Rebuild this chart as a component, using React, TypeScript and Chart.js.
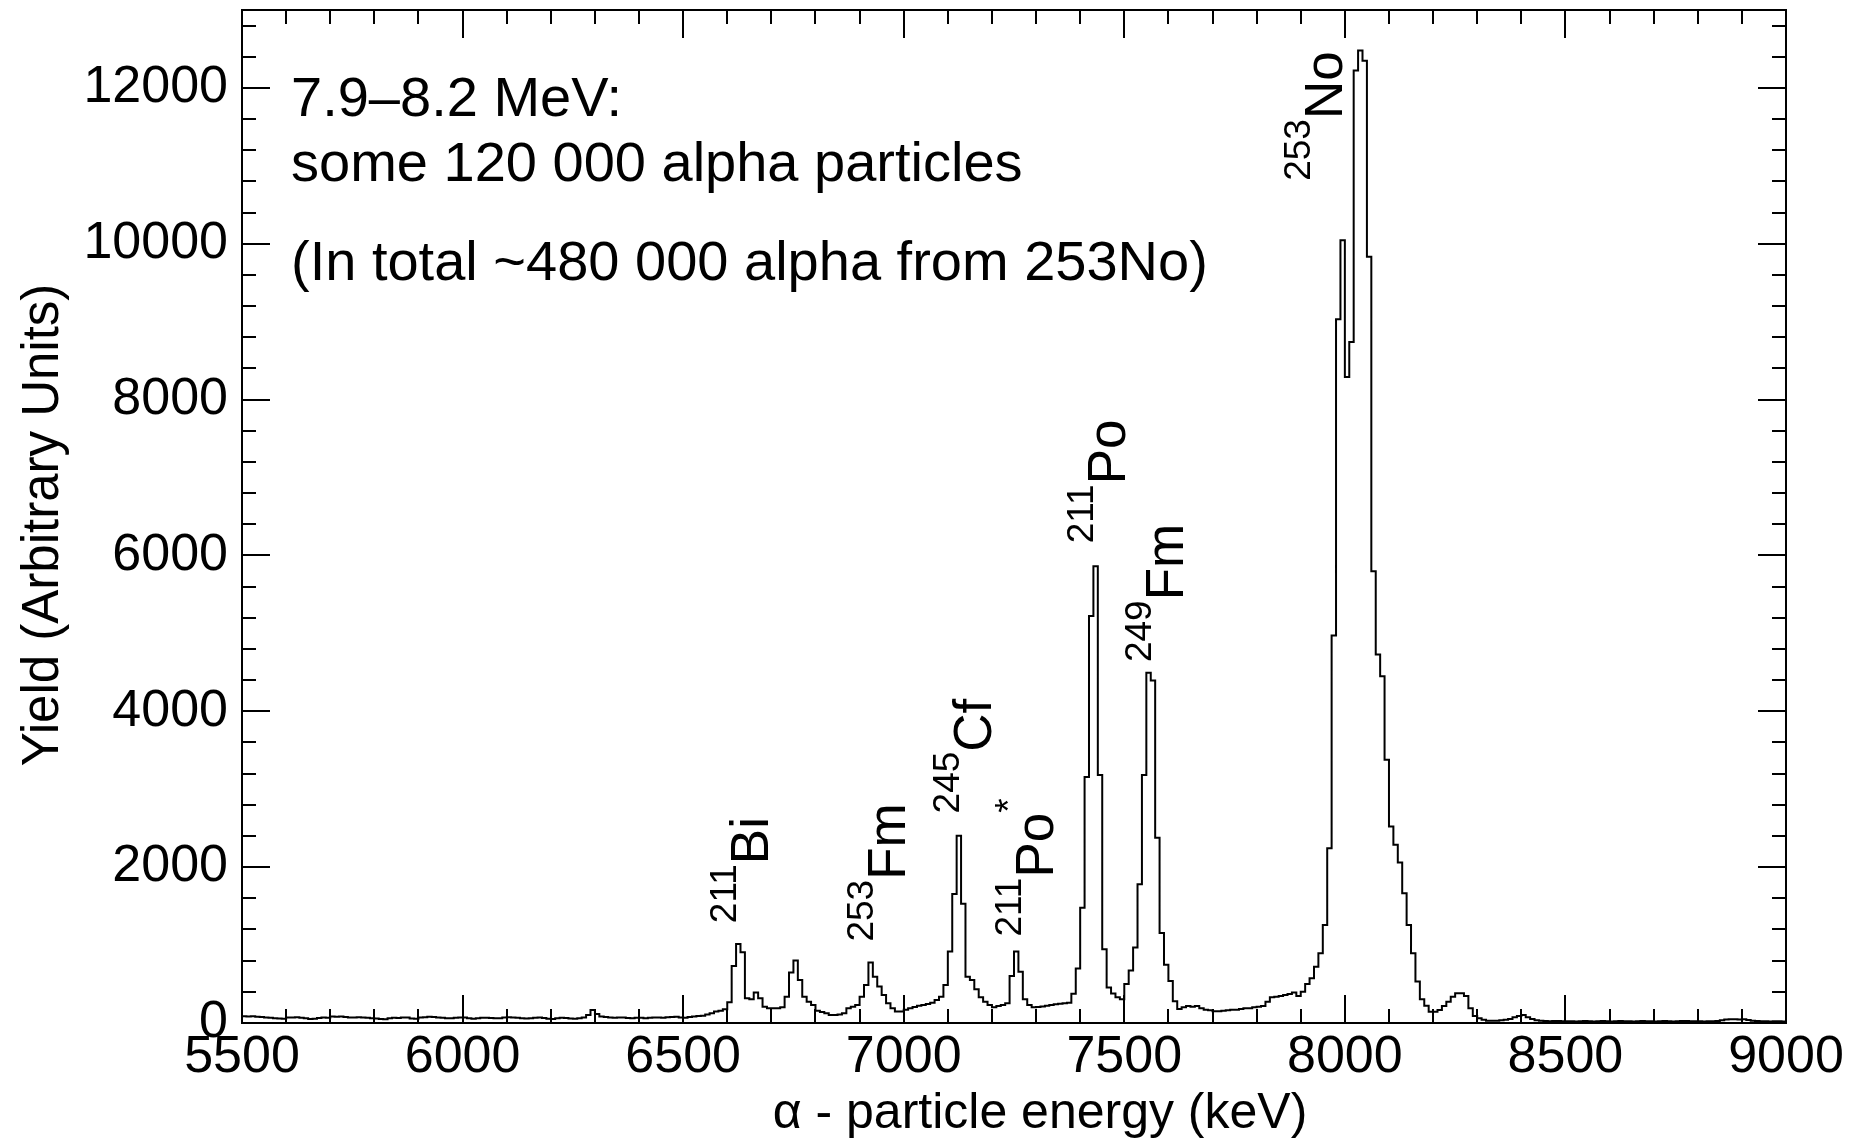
import React, { useEffect, useRef } from 'react';
import { Chart, registerables } from 'chart.js';

Chart.register(...registerables);

// Histogram binning (keV)
const BIN_START_KEV = 5500;
const BIN_WIDTH_KEV = 10;

// Yield per 10 keV bin, one row = 100 keV (row start energy in comment)
const yieldCounts: number[] = [
  /* 5500 */ 88, 84, 86, 80, 78, 72, 66, 62, 58, 55,
  /* 5600 */ 72, 70, 74, 68, 60, 52, 56, 64, 70, 66,
  /* 5700 */ 84, 80, 82, 76, 70, 72, 74, 70, 66, 62,
  /* 5800 */ 58, 50, 48, 62, 66, 64, 72, 70, 58, 54,
  /* 5900 */ 70, 74, 80, 78, 72, 66, 62, 60, 66, 72,
  /* 6000 */ 70, 62, 56, 60, 66, 68, 64, 60, 62, 70,
  /* 6100 */ 74, 70, 66, 62, 58, 62, 66, 70, 64, 56,
  /* 6200 */ 52, 62, 68, 64, 58, 56, 62, 70, 103, 167,
  /* 6300 */ 116, 85, 78, 70, 66, 72, 70, 64, 60, 66,
  /* 6400 */ 68, 62, 66, 72, 70, 68, 74, 78, 80, 72,
  /* 6500 */ 66, 78, 84, 90, 94, 110, 124, 146, 158, 176,
  /* 6600 */ 265, 732, 1015, 908, 317, 304, 390, 317, 210, 189,
  /* 6700 */ 189, 189, 201, 338, 647, 801, 552, 338, 274, 231,
  /* 6800 */ 158, 140, 124, 103, 103, 110, 124, 189, 210, 231,
  /* 6900 */ 338, 488, 775, 595, 467, 360, 253, 189, 146, 146,
  /* 7000 */ 170, 190, 205, 220, 231, 245, 261, 295, 338, 488,
  /* 7100 */ 916, 1657, 2402, 1529, 595, 552, 433, 330, 274, 231,
  /* 7200 */ 201, 218, 231, 253, 604, 916, 659, 304, 231, 201,
  /* 7300 */ 205, 212, 220, 231, 240, 248, 255, 260, 375, 700,
  /* 7400 */ 1480, 3158, 5222, 5862, 3183, 945, 454, 380, 330, 306,
  /* 7500 */ 502, 675, 970, 1780, 3183, 4495, 4396, 2376, 1154, 747,
  /* 7600 */ 540, 280, 180, 203, 218, 210, 218, 190, 171, 163,
  /* 7700 */ 150, 150, 158, 163, 171, 171, 180, 190, 190, 203,
  /* 7800 */ 210, 218, 274, 330, 338, 347, 360, 373, 390, 345,
  /* 7900 */ 402, 501, 574, 723, 895, 1259, 2244, 4972, 9031, 10046,
  /* 8000 */ 8290, 8740, 12222, 12479, 12350, 9832, 5798, 4728, 4449, 3379,
  /* 8100 */ 2522, 2287, 2060, 1666, 1259, 895, 531, 305, 220, 145,
  /* 8200 */ 145, 167, 218, 274, 338, 381, 381, 347, 188, 90,
  /* 8300 */ 60, 43, 30, 28, 30, 35, 43, 52, 73, 90,
  /* 8400 */ 103, 73, 52, 35, 28, 26, 24, 26, 25, 22,
  /* 8500 */ 24, 22, 20, 23, 25, 22, 20, 24, 26, 23,
  /* 8600 */ 20, 22, 25, 24, 21, 20, 23, 26, 24, 22,
  /* 8700 */ 20, 24, 26, 22, 20, 23, 25, 27, 24, 21,
  /* 8800 */ 22, 20, 24, 22, 26, 34, 45, 47, 48, 46,
  /* 8900 */ 47, 40, 30, 26, 24, 22, 20, 22, 21, 20,
];

// Axes
const xLimits = [5500, 9000];
const yLimits = [0, 13000];
const xTickValues = [5500, 6000, 6500, 7000, 7500, 8000, 8500, 9000];
const yTickValues = [0, 2000, 4000, 6000, 8000, 10000, 12000];
const xMajorStep = 500;
const xMinorStep = 100;
const yMajorStep = 2000;
const yMinorStep = 400;

const xTitle = 'α - particle energy (keV)';
const yTitle = 'Yield (Arbitrary Units)';

const infoLines = [
  '7.9–8.2 MeV:',
  'some 120 000 alpha particles',
  '(In total ~480 000 alpha from 253No)',
];

// Peak labels: mass number (superscript), element, optional trailing mark
const peakMass = ['211', '253', '245', '211', '211', '249', '253'];
const peakElement = ['Bi', 'Fm', 'Cf', 'Po', 'Po', 'Fm', 'No'];
const peakMark = ['', '', '', '*', '', '', ''];
// anchor of each label in data coordinates (baseline energy, start yield)
const peakLabelEnergy = [6693, 7003, 7197, 7338, 7502, 7634, 7993];
const peakLabelYield = [1281, 1045, 2690, 1109, 6156, 4632, 10808];

const FONT = '"Liberation Sans", Arial, Helvetica, sans-serif';

const overlayPlugin = {
  id: 'rootStyleOverlay',
  afterDraw(chart: any) {
    const { ctx, chartArea: a, scales } = chart;
    const xs = scales.x;
    const ys = scales.y;
    ctx.save();
    ctx.strokeStyle = '#000';
    ctx.fillStyle = '#000';
    ctx.lineWidth = 2;

    // frame
    ctx.strokeRect(a.left, a.top, a.right - a.left, a.bottom - a.top);

    // inward ticks on all four sides
    ctx.beginPath();
    for (let v = xLimits[0]; v <= xLimits[1]; v += xMinorStep) {
      const p = Math.round(xs.getPixelForValue(v));
      const len = v % xMajorStep === 0 ? 28 : 14;
      ctx.moveTo(p, a.bottom);
      ctx.lineTo(p, a.bottom - len);
      ctx.moveTo(p, a.top);
      ctx.lineTo(p, a.top + len);
    }
    for (let v = yLimits[0]; v <= yLimits[1]; v += yMinorStep) {
      const p = Math.round(ys.getPixelForValue(v));
      const len = v % yMajorStep === 0 ? 28 : 14;
      ctx.moveTo(a.left, p);
      ctx.lineTo(a.left + len, p);
      ctx.moveTo(a.right, p);
      ctx.lineTo(a.right - len, p);
    }
    ctx.stroke();

    // axis titles
    ctx.font = `50px ${FONT}`;
    ctx.textAlign = 'center';
    ctx.textBaseline = 'alphabetic';
    ctx.fillText(xTitle, 1040, 1128);
    ctx.save();
    ctx.translate(58, 525);
    ctx.rotate(-Math.PI / 2);
    ctx.font = `51px ${FONT}`;
    ctx.fillText(yTitle, 0, 0);
    ctx.restore();

    // info text
    ctx.textAlign = 'left';
    ctx.font = `56px ${FONT}`;
    const infoBaselines = [116, 181, 280];
    infoLines.forEach((t, i) => ctx.fillText(t, 291, infoBaselines[i]));

    // peak labels (rotated, reading upward)
    const supSize = 37;
    const mainSize = 53;
    const supRaise = 32;
    peakElement.forEach((el, i) => {
      const px = xs.getPixelForValue(peakLabelEnergy[i]);
      const py = ys.getPixelForValue(peakLabelYield[i]);
      ctx.save();
      ctx.translate(px, py);
      ctx.rotate(-Math.PI / 2);
      ctx.textAlign = 'left';
      ctx.font = `${supSize}px ${FONT}`;
      ctx.fillText(peakMass[i], 0, -supRaise);
      let w = ctx.measureText(peakMass[i]).width;
      ctx.font = `${mainSize}px ${FONT}`;
      ctx.fillText(el, w, 0);
      w += ctx.measureText(el).width;
      if (peakMark[i]) {
        ctx.font = `${supSize}px ${FONT}`;
        ctx.fillText(peakMark[i], w, -supRaise);
      }
      ctx.restore();
    });
    ctx.restore();
  },
};

export default function App() {
  const canvasRef = useRef<HTMLCanvasElement | null>(null);

  useEffect(() => {
    const canvas = canvasRef.current;
    if (!canvas) return;
    const points = yieldCounts.map((c, i) => ({ x: BIN_START_KEV + i * BIN_WIDTH_KEV, y: c }));
    points.push({ x: BIN_START_KEV + yieldCounts.length * BIN_WIDTH_KEV, y: yieldCounts[yieldCounts.length - 1] });

    const chart = new Chart(canvas, {
      type: 'line',
      data: {
        datasets: [
          {
            data: points,
            stepped: true,
            borderColor: '#000',
            borderWidth: 2,
            pointRadius: 0,
            fill: false,
            tension: 0,
          },
        ],
      },
      options: {
        responsive: false,
        animation: false,
        events: [],
        layout: { padding: { top: 10, right: 68, left: 0, bottom: 0 } },
        plugins: { legend: { display: false }, tooltip: { enabled: false }, title: { display: false } },
        scales: {
          x: {
            type: 'linear',
            min: xLimits[0],
            max: xLimits[1],
            grid: { display: false, drawTicks: false },
            border: { display: false },
            afterBuildTicks: (s: any) => {
              s.ticks = xTickValues.map((v) => ({ value: v }));
            },
            ticks: {
              autoSkip: false,
              maxRotation: 0,
              minRotation: 0,
              padding: 3,
              color: '#000',
              font: { family: FONT, size: 52 },
              callback: (v: any) => String(v),
            },
            afterFit: (s: any) => {
              s.height = 117;
              s.paddingLeft = 0;
              s.paddingRight = 0;
            },
          },
          y: {
            type: 'linear',
            min: yLimits[0],
            max: yLimits[1],
            grid: { display: false, drawTicks: false },
            border: { display: false },
            afterBuildTicks: (s: any) => {
              s.ticks = yTickValues.map((v) => ({ value: v }));
            },
            ticks: {
              autoSkip: false,
              padding: 14,
              color: '#000',
              font: { family: FONT, size: 52 },
              callback: (v: any) => String(v),
            },
            afterFit: (s: any) => {
              s.width = 242;
              s.paddingTop = 0;
              s.paddingBottom = 0;
            },
          },
        },
      },
      plugins: [overlayPlugin],
    } as any);

    return () => chart.destroy();
  }, []);

  return (
    <div style={{ position: 'absolute', left: 0, top: 0, width: 1854, height: 1140, background: '#fff' }}>
      <canvas ref={canvasRef} width={1854} height={1140} style={{ display: 'block' }} />
    </div>
  );
}
